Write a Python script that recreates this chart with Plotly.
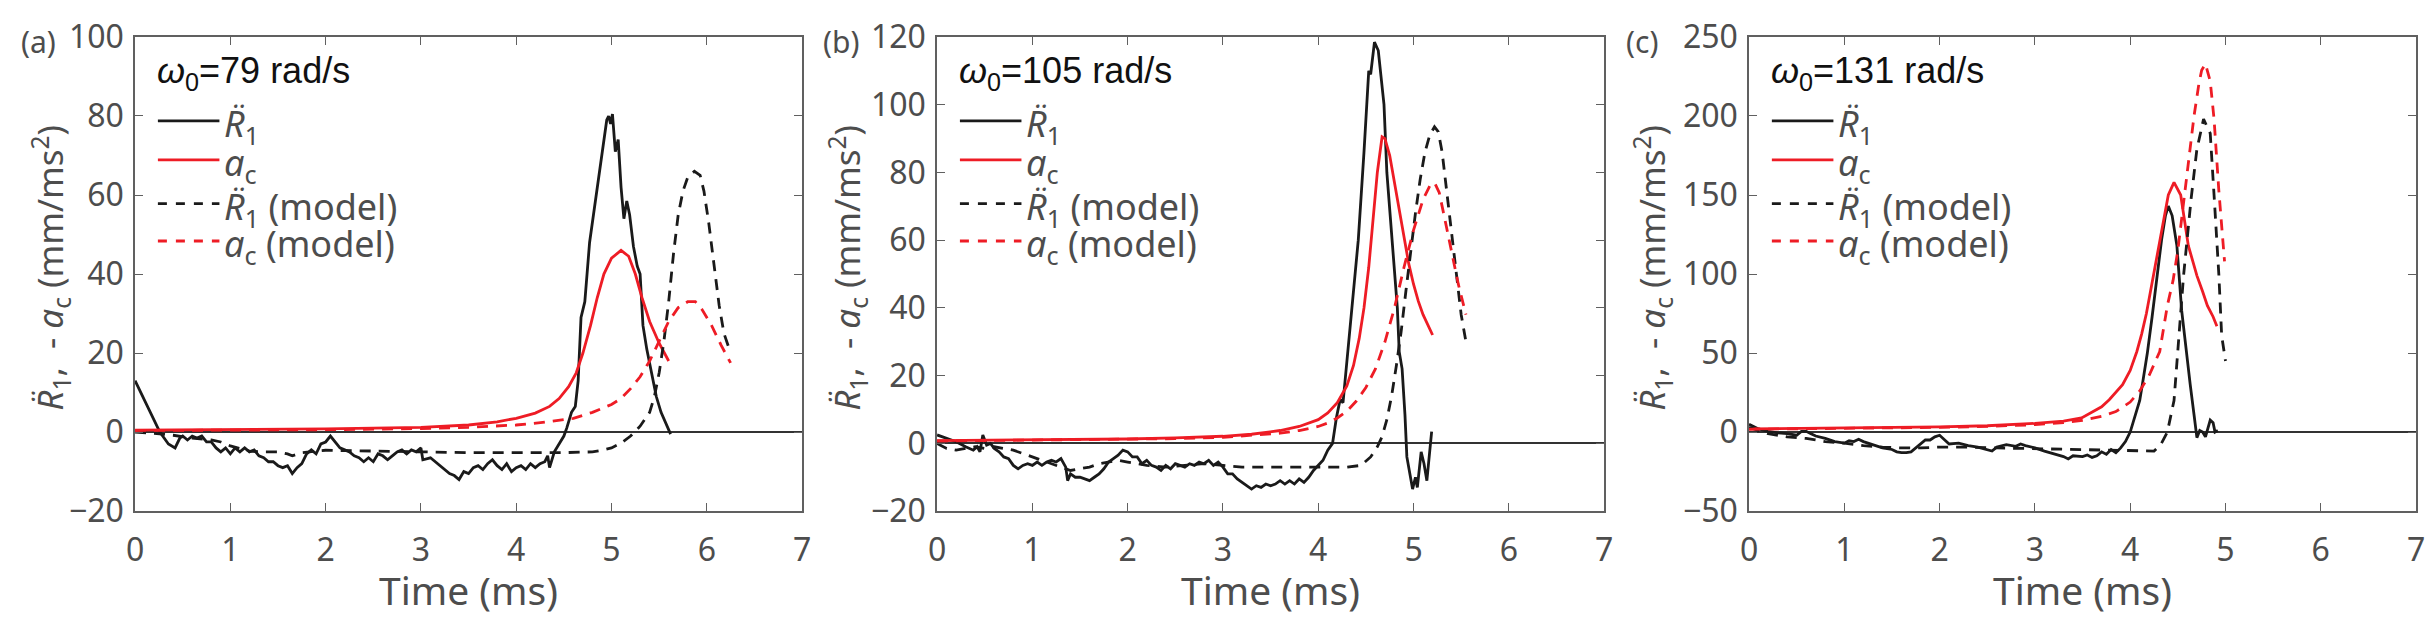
import plotly.graph_objects as go

W, H = 2434, 628

# ---------------- data: panel (a) omega0 = 79 rad/s ----------------
a_exp_t = [0, 0.1, 0.2, 0.26, 0.35, 0.42, 0.47, 0.5, 0.55, 0.6, 0.65, 0.7, 0.75, 0.8, 0.85, 0.9, 0.95,
           1.0, 1.05, 1.1, 1.15, 1.2, 1.25, 1.3, 1.35, 1.4, 1.45, 1.5, 1.55, 1.6, 1.65, 1.7, 1.75, 1.8,
           1.85, 1.9, 1.95, 2.0, 2.05, 2.1, 2.15, 2.2, 2.25, 2.3, 2.35, 2.4, 2.45, 2.5, 2.55, 2.6, 2.65,
           2.7, 2.75, 2.8, 2.85, 2.9, 2.95, 3.0, 3.02, 3.1, 3.15, 3.2, 3.25, 3.3, 3.35, 3.4, 3.45, 3.5,
           3.55, 3.6, 3.65, 3.7, 3.75, 3.8, 3.85, 3.9, 3.95, 4.0, 4.05, 4.1, 4.15, 4.2, 4.25, 4.3, 4.33,
           4.35, 4.4, 4.45, 4.5, 4.53, 4.58, 4.62, 4.65, 4.68, 4.72, 4.77, 4.8, 4.85, 4.9, 4.95, 4.97,
           4.99, 5.01, 5.04, 5.07, 5.1, 5.13, 5.16, 5.19, 5.23, 5.27, 5.3, 5.33, 5.37, 5.42, 5.47, 5.52,
           5.57, 5.62]
a_exp_v = [13, 8, 3, 0, -3, -4, -1.5, -1, -2, -1, -1.5, -1, -2.5, -2.5, -4, -5, -4,
           -5.5, -4, -5, -4, -5, -4.5, -6, -6.5, -7.5, -7.5, -8.5, -9, -8.5, -10.5, -9, -8, -5.5,
           -4.5, -5.5, -3, -2.5, -1, -2.5, -4, -4.5, -5, -6, -6.5, -7.5, -6.5, -7.5, -5.5, -6, -7,
           -6, -5, -4.5, -5.5, -4.5, -5, -4, -7, -6.5, -7.5, -8.5, -9.5, -10.5, -11, -12, -10, -10.5,
           -9, -8.5, -9.5, -8, -7, -8.5, -9.5, -8, -10, -9, -8.5, -9.5, -8, -9, -8, -7.5, -6,
           -9, -5, -3, -1, 1, 5, 6.5, 13, 29, 33, 48, 53, 62, 70, 79, 80,
           78, 80.5, 71, 74, 62, 54, 58.5, 55, 47, 42, 40, 27, 21, 15, 9, 5,
           2, -0.5]

a_mod_t = [0, 0.2, 0.4, 0.6, 0.8, 0.9, 1.0, 1.1, 1.2, 1.3, 1.5, 1.6, 1.65, 1.75, 2.0, 2.5, 3.0, 3.5,
           4.0, 4.5, 4.8, 4.9, 5.0, 5.1, 5.2, 5.3, 5.4, 5.45, 5.5, 5.55, 5.6, 5.65, 5.7, 5.75, 5.8,
           5.87, 5.93, 5.97, 6.02, 6.08, 6.13, 6.18, 6.25]
a_mod_v = [0, -0.3, -0.8, -1.5, -2, -2.5, -3.5, -4.2, -4.8, -5, -5, -5.5, -6, -5.2, -4.6, -4.8, -5, -5.2,
           -5.2, -5.2, -5, -4.6, -4, -2.8, -1, 1.5, 5, 9, 15, 23, 33, 45, 55, 61, 64.5,
           66, 65, 61, 53, 42, 32, 25, 20]

a_ac_t = [0, 1, 2, 3, 3.5, 3.8, 4.0, 4.2, 4.35, 4.45, 4.55, 4.63, 4.7, 4.78, 4.85, 4.92, 5.0, 5.1,
          5.18, 5.25, 5.32, 5.4, 5.5, 5.6]
a_ac_v = [0.5, 0.6, 0.8, 1.2, 1.8, 2.6, 3.5, 4.8, 6.5, 8.5, 11.5, 15, 20, 27, 34, 40, 44, 46,
          44.5, 40, 34, 28, 22.5, 18]

a_acm_t = [0, 1, 2, 3, 3.5, 4.0, 4.3, 4.6, 4.8, 5.0, 5.1, 5.2, 5.3, 5.4, 5.5, 5.6, 5.7, 5.8, 5.88,
           5.95, 6.05, 6.15, 6.25]
a_acm_v = [0.4, 0.5, 0.6, 0.9, 1.2, 1.8, 2.5, 3.5, 5, 7, 8.5, 11, 14, 18, 23, 28, 31.5, 33, 33,
           31, 27, 22, 17.5]

# ---------------- data: panel (b) omega0 = 105 rad/s ----------------
b_exp_t = [0, 0.05, 0.1, 0.2, 0.3, 0.38, 0.42, 0.45, 0.48, 0.52, 0.56, 0.6, 0.65, 0.7, 0.75, 0.8,
           0.85, 0.9, 0.95, 1.0, 1.05, 1.1, 1.15, 1.2, 1.25, 1.3, 1.35, 1.37, 1.4, 1.45, 1.5, 1.55,
           1.6, 1.65, 1.7, 1.75, 1.8, 1.85, 1.9, 1.95, 2.0, 2.05, 2.1, 2.15, 2.2, 2.25, 2.3, 2.35,
           2.4, 2.45, 2.5, 2.55, 2.6, 2.65, 2.7, 2.75, 2.8, 2.85, 2.9, 2.95, 3.0, 3.05, 3.1, 3.15,
           3.2, 3.25, 3.3, 3.35, 3.4, 3.45, 3.5, 3.55, 3.6, 3.65, 3.7, 3.75, 3.8, 3.85, 3.9, 3.95,
           4.0, 4.05, 4.1, 4.15, 4.19, 4.23, 4.26, 4.3, 4.34, 4.38, 4.42, 4.48, 4.53, 4.55, 4.59,
           4.63, 4.69, 4.72, 4.77, 4.83, 4.85, 4.88, 4.91, 4.93, 4.99, 5.02, 5.04, 5.08, 5.11, 5.14,
           5.19]
b_exp_v = [2.5, 2, 1.5, 0.5, -1, -2, -1, -2.5, 2.5, -0.5, 0, -1.5, -2.5, -4, -4.5, -6.5,
           -7.5, -6.5, -6, -6.5, -5.5, -6.5, -5.5, -5, -5.5, -4.5, -7, -11, -9, -10, -10, -10.5,
           -11, -10, -9, -7.5, -5.5, -4.5, -3.5, -2, -2.5, -4, -4, -6, -5, -6.5, -7, -8,
           -6.5, -7.5, -6, -6.5, -7, -6, -6.5, -5.5, -6, -5, -6.5, -5.5, -7, -9, -9, -10.5,
           -11.5, -12.5, -13.5, -12.5, -13, -12, -12.5, -12, -11, -12, -11, -12, -10.5, -11.5, -10, -8,
           -6.5, -5, -2, 0, 7.5, 13, 12, 24, 34, 46, 60, 86, 110, 109, 118.5,
           116, 100, 80, 63, 40, 27, 22, 8.5, -4, -13.5, -10, -13, -2.5, -6, -11,
           3.5]

b_mod_t = [0, 0.1, 0.2, 0.3, 0.4, 0.5, 0.6, 0.7, 0.8, 0.9, 1.0, 1.1, 1.2, 1.3, 1.4, 1.5, 1.6, 1.7,
           1.8, 1.9, 2.0, 2.2, 2.4, 2.6, 2.8, 3.0, 3.2, 3.5, 4.0, 4.3, 4.45, 4.55, 4.62, 4.67, 4.72,
           4.77, 4.82, 4.87, 4.92, 4.97, 5.02, 5.07, 5.12, 5.17, 5.22, 5.26, 5.3, 5.35, 5.4, 5.45,
           5.5, 5.55]
b_mod_v = [0, -1.5, -2, -1.5, -1, -1.5, -1, -1.5, -2, -3, -4, -5, -6, -7, -8, -7.5, -7, -6,
           -5.5, -5, -5.5, -6.5, -7, -6.5, -6, -6.5, -7, -7, -7, -7, -6.5, -4, -1, 2, 7,
           14, 23, 33, 45, 57, 68, 78, 86, 91, 93.5, 92, 86, 74, 61, 50,
           38, 30]

b_ac_t = [0, 1, 2, 2.5, 3.0, 3.3, 3.6, 3.8, 4.0, 4.1, 4.2, 4.3, 4.37, 4.43, 4.48, 4.53, 4.57, 4.62,
          4.67, 4.7, 4.75, 4.8, 4.85, 4.9, 4.95, 5.0, 5.05, 5.1, 5.15, 5.2]
b_ac_v = [0.8, 1.0, 1.3, 1.6, 2.1, 2.7, 3.8, 5, 7, 9, 12, 17, 23, 31, 40, 52, 65, 80,
          90.5, 90, 85, 77, 69, 61, 53, 47, 42, 38, 35, 32]

b_acm_t = [0, 1, 2, 2.5, 3.0, 3.3, 3.6, 3.8, 4.0, 4.1, 4.2, 4.3, 4.4, 4.5, 4.6, 4.7, 4.8, 4.9, 5.0,
           5.1, 5.17, 5.22, 5.27, 5.33, 5.4, 5.47, 5.55]
b_acm_v = [0.7, 0.9, 1.1, 1.4, 1.8, 2.3, 3, 3.8, 5, 6, 7.5, 9.5, 12.5, 16.5, 22, 30, 40, 52, 63,
           72, 76, 77, 74, 66, 56, 47, 38]

# ---------------- data: panel (c) omega0 = 131 rad/s ----------------
c_exp_t = [0, 0.05, 0.1, 0.2, 0.3, 0.4, 0.5, 0.55, 0.6, 0.65, 0.7, 0.8, 0.9, 1.0, 1.05, 1.1, 1.15,
           1.2, 1.3, 1.4, 1.5, 1.55, 1.6, 1.65, 1.7, 1.75, 1.8, 1.85, 1.9, 1.95, 2.0, 2.05, 2.1, 2.2,
           2.3, 2.4, 2.5, 2.55, 2.6, 2.7, 2.8, 2.85, 2.9, 3.0, 3.1, 3.2, 3.3, 3.35, 3.4, 3.5, 3.55,
           3.6, 3.65, 3.7, 3.75, 3.8, 3.85, 3.9, 3.95, 4.0, 4.05, 4.1, 4.13, 4.18, 4.23, 4.27, 4.33,
           4.37, 4.4, 4.44, 4.49, 4.54, 4.59, 4.63, 4.67, 4.7, 4.73, 4.76, 4.79, 4.81, 4.84, 4.87,
           4.89, 4.92]
c_exp_v = [5, 3.5, 2, 0.5, -0.5, -1, -2, 0.5, 0.5, -1, -2.5, -4, -6, -7, -5.5, -6, -4.5,
           -6, -8, -10, -11, -12.5, -13, -13, -12.5, -10, -8, -5, -5, -3, -2, -5, -7.5, -7,
           -8.5, -9.5, -11.5, -12, -9.5, -8, -9, -7.5, -8.5, -10, -12, -14, -15.5, -17, -15, -15.5, -14.5,
           -16, -15, -12.5, -14, -11, -13, -10, -6, 0, 10, 20, 31, 50, 73, 94, 122,
           137, 143, 137, 118, 77, 49, 30, 11, -3.5, 1, 0, -3, 2, 7.6, 6,
           0, 1]

c_mod_t = [0, 0.2, 0.4, 0.6, 0.8, 1.0, 1.2, 1.4, 1.6, 1.8, 2.0, 2.3, 2.6, 3.0, 3.3, 3.6, 4.0, 4.25,
           4.32, 4.39, 4.46, 4.5, 4.56, 4.64, 4.7, 4.77, 4.84, 4.88, 4.93, 4.96, 5.0]
c_mod_v = [3, -1, -3, -4, -6, -7, -8.5, -9.5, -10, -10, -9.5, -9.5, -10, -10.5, -10.5, -11, -11.5, -12,
           -8, 0, 20, 51, 99, 148, 179, 198, 189, 150, 100, 61, 45]

c_ac_t = [0, 1, 2, 2.5, 3.0, 3.3, 3.49, 3.7, 3.78, 3.92, 4.0, 4.07, 4.12, 4.17, 4.25, 4.3, 4.34,
          4.4, 4.46, 4.53, 4.61, 4.7, 4.76, 4.81, 4.87, 4.91]
c_ac_v = [2, 2.5, 3.3, 4, 5.5, 7, 9, 16, 20.5, 30, 39, 51, 62, 75, 101, 118, 130,
          150, 158, 150, 118, 99, 89, 80, 73, 67]

c_acm_t = [0, 1, 2, 2.5, 3.0, 3.3, 3.5, 3.7, 3.85, 4.0, 4.1, 4.2, 4.31, 4.39, 4.45, 4.5, 4.56,
           4.62, 4.67, 4.72, 4.75, 4.79, 4.84, 4.88, 4.93, 4.99]
c_acm_v = [1.8, 2.2, 3, 3.6, 4.7, 6, 7.5, 10, 13, 19, 26, 36, 51, 80, 96, 115, 146,
           175, 200, 220, 229, 233, 222, 198, 153, 108]

# ---------------- axis settings ----------------
x_range = [0, 7]
x_ticks = [0, 1, 2, 3, 4, 5, 6, 7]
y_ranges = [[-20, 100], [-20, 120], [-50, 250]]
y_dticks = [20, 20, 50]
omegas = ["79", "105", "131"]
panel_tags = ["(a)", "(b)", "(c)"]

panels = [
    (a_exp_t, a_exp_v, a_ac_t, a_ac_v, a_mod_t, a_mod_v, a_acm_t, a_acm_v),
    (b_exp_t, b_exp_v, b_ac_t, b_ac_v, b_mod_t, b_mod_v, b_acm_t, b_acm_v),
    (c_exp_t, c_exp_v, c_ac_t, c_ac_v, c_mod_t, c_mod_v, c_acm_t, c_acm_v),
]

# ---------------- styles / layout geometry (pixels) ----------------
BLACK = "#1a1a1a"
RED = "#ee1c25"
GRAY_TXT = "#4d4d4d"
AX = "#606060"
LW = 2.8
DASH = "11px,8px"
TXT_FONT = "Noto Sans"

left_px = [127, 935, 1753]
PW = 672
TOP, BOT = 15, 524


def fx(px):
    return px / W


def fy(py):
    return 1 - py / H


fig = go.Figure()
annotations = []
shapes = []

for i, (et, ev, act, acv, mt, mv, amt, amv) in enumerate(panels):
    n = "" if i == 0 else str(i + 1)
    xa, ya = "x" + n, "y" + n
    styles = [
        (et, ev, BLACK, "solid"),
        (act, acv, RED, "solid"),
        (mt, mv, BLACK, DASH),
        (amt, amv, RED, DASH),
    ]
    for t, v, col, dash in styles:
        fig.add_trace(go.Scatter(x=t, y=v, mode="lines", xaxis=xa, yaxis=ya,
                                 line=dict(color=col, width=LW, dash=dash),
                                 showlegend=False, hoverinfo="skip"))
    L = left_px[i]
    common = dict(showline=True, mirror="ticks", linecolor=AX, linewidth=1.5,
                  ticks="inside", ticklen=8, tickwidth=1.2, tickcolor=AX,
                  showgrid=False, ticklabeloverflow="allow",
                  tickfont=dict(family=TXT_FONT, size=32, color=GRAY_TXT))
    fig.update_layout(**{
        "xaxis" + n: dict(domain=[fx(L), fx(L + PW)], range=x_range, tickvals=x_ticks,
                          anchor=ya, zeroline=False, ticklabelstandoff=10, **common),
        "yaxis" + n: dict(domain=[fy(BOT), fy(TOP)], range=y_ranges[i], dtick=y_dticks[i],
                          anchor=xa, zeroline=True, zerolinecolor="#333333", zerolinewidth=1.5,
                          ticklabelstandoff=3, **common),
    })

    # omega annotation
    annotations.append(dict(x=fx(L + 20), y=fy(54), xref="paper", yref="paper",
                            xanchor="left", yanchor="middle", showarrow=False,
                            text="<i>ω</i><sub>0</sub>=" + omegas[i] + " rad/s",
                            font=dict(family="Liberation Sans", size=36, color="#111111")))
    # manual legend
    rows = [105, 147, 194, 234]
    labels = ["<i>R̈</i><sub>1</sub>", "<i>a</i><sub>c</sub>",
              "<i>R̈</i><sub>1</sub> (model)", "<i>a</i><sub>c</sub> (model)"]
    lcols = [BLACK, RED, BLACK, RED]
    ldash = ["solid", "solid", "dash", "dash"]
    for r, lab, c, d in zip(rows, labels, lcols, ldash):
        shapes.append(dict(type="line", xref="paper", yref="paper",
                           x0=fx(L + 23), x1=fx(L + 85), y0=fy(r), y1=fy(r),
                           line=dict(color=c, width=LW, dash=d)))
        annotations.append(dict(x=fx(L + 88), y=fy(r + 5), xref="paper", yref="paper",
                                xanchor="left", yanchor="middle", showarrow=False, text=lab,
                                font=dict(family=TXT_FONT, size=36, color=GRAY_TXT)))
    # x axis title
    annotations.append(dict(x=fx(L + PW / 2), y=fy(608), xref="paper", yref="paper",
                            xanchor="center", yanchor="middle", showarrow=False,
                            text="Time (ms)",
                            font=dict(family=TXT_FONT, size=39, color=GRAY_TXT)))

ytitle_x = [42, 845, 1656]
tag_x = [30, 838, 1645]
for i in range(3):
    annotations.append(dict(x=fx(ytitle_x[i]), y=fy(263), xref="paper", yref="paper",
                            xanchor="center", yanchor="middle", showarrow=False, textangle=-90,
                            text="<i>R̈</i><sub>1</sub>,  - <i>a</i><sub>c</sub> (mm/ms<sup>2</sup>)",
                            font=dict(family=TXT_FONT, size=35, color=GRAY_TXT)))
    annotations.append(dict(x=fx(tag_x[i]), y=fy(20), xref="paper", yref="paper",
                            xanchor="center", yanchor="middle", showarrow=False,
                            text=panel_tags[i],
                            font=dict(family=TXT_FONT, size=30, color=GRAY_TXT)))

fig.update_layout(width=W, height=H, margin=dict(l=0, r=0, t=0, b=0),
                  paper_bgcolor="white", plot_bgcolor="white",
                  annotations=annotations, shapes=shapes, showlegend=False)

fig.write_html("out.html", config={"displayModeBar": False})
